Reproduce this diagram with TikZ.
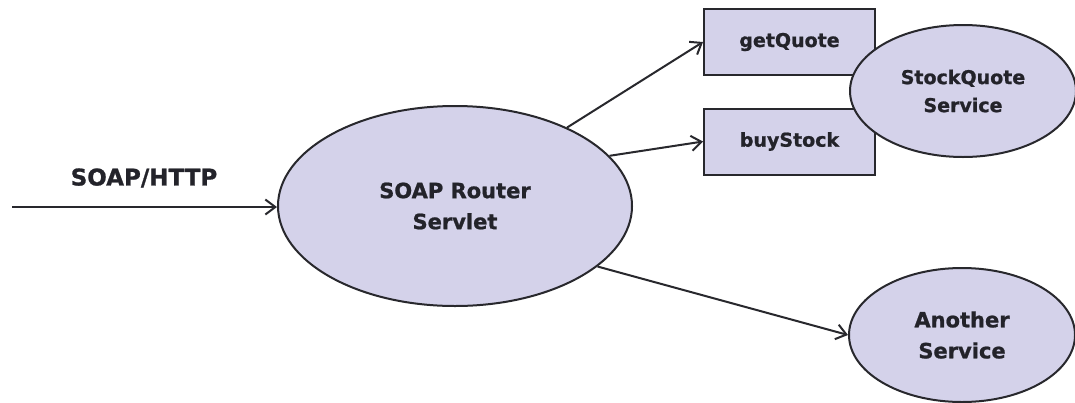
\documentclass[tikz,border=0pt]{standalone}
\usepackage{fontspec}
\setmainfont{DejaVu Sans}[BoldFeatures={FakeBold=1}]
\usetikzlibrary{shapes.geometric,arrows.meta}
\definecolor{lav}{RGB}{212,210,234}
\definecolor{edge}{RGB}{40,40,45}
\definecolor{txt}{RGB}{35,35,42}
\begin{document}
\begin{tikzpicture}[x=1pt,y=-1pt,
  ell/.style={ellipse,draw=edge,fill=lav,line width=2pt,inner sep=0pt,align=center,text=txt,font=\bfseries\fontsize{21}{31}\selectfont},
  opbox/.style={rectangle,draw=edge,fill=lav,line width=2pt,inner sep=0pt,minimum width=171pt,minimum height=66pt,text=txt,font=\bfseries\fontsize{19}{24}\selectfont},
  conn/.style={draw=edge,line width=2pt,-{Straight Barb[length=10pt,width=15pt,line width=2pt]}},
  lbl/.style={text=txt,font=\bfseries\fontsize{23}{28}\selectfont,inner sep=0pt}]
\useasboundingbox (0,0) rectangle (1075,402);
\fill[white] (0,0) rectangle (1075,402);
\node[ell,minimum width=354pt,minimum height=200pt] (router) at (455,206) {SOAP Router\\Servlet};
\node[opbox] (get) at (789.5,42) {getQuote};
\node[opbox] (buy) at (789.5,141.5) {buyStock};
\node[ell,minimum width=226pt,minimum height=132pt,font=\bfseries\fontsize{19}{28}\selectfont] (sq) at (963,91) {StockQuote\\Service};
\node[ell,minimum width=226pt,minimum height=134pt] (another) at (962,335) {Another\\Service};
\node[lbl] (http) at (144,178) {SOAP/HTTP};
\coordinate (src) at (12,207);
\draw[conn] (src) -- (router.west |- src);
\draw[conn] (router.35) -- (get.west);
\draw[conn] (router.18) -- (buy.west);
\draw[conn] (router.-23) -- (another.west);
\end{tikzpicture}
\end{document}
